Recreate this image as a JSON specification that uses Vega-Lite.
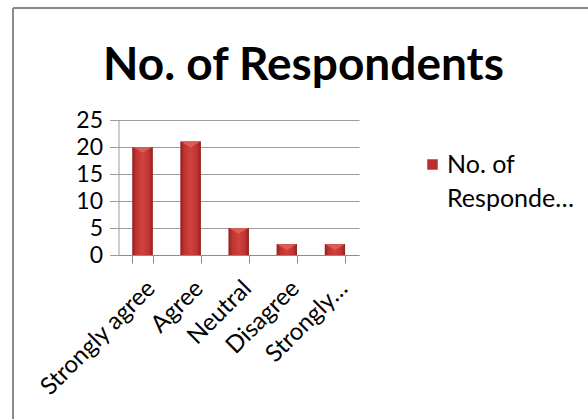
{
  "$schema": "https://vega.github.io/schema/vega-lite/v6.json",
  "width": 575,
  "height": 411,
  "autosize": {"type": "none"},
  "padding": {"left": 13, "top": 8, "right": 0, "bottom": 0},
  "background": "white",
  "config": {
    "font": "Lato",
    "view": {"stroke": "#8a8a8a", "strokeWidth": 2, "strokeDash": [575, 986, 411, 0]},
    "axis": {"labelColor": "#000000", "labelFont": "Lato", "domainColor": "#8c8c8c", "tickColor": "#8c8c8c"},
    "style": {"guide-label": {"lineHeight": 34}}
  },
  "title": {
    "text": "No. of Respondents",
    "font": "Lato",
    "fontSize": 46,
    "fontWeight": "bold",
    "color": "#000000",
    "anchor": "middle",
    "baseline": "alphabetic",
    "offset": -118,
    "dx": 3
  },
  "data": {
    "values": [
      {"response": "Strongly agree", "count": 20, "series": "No. of Respondents"},
      {"response": "Agree", "count": 21, "series": "No. of Respondents"},
      {"response": "Neutral", "count": 5, "series": "No. of Respondents"},
      {"response": "Disagree", "count": 2, "series": "No. of Respondents"},
      {"response": "Strongly disagree", "count": 2, "series": "No. of Respondents"}
    ]
  },
  "encoding": {
    "x": {
      "field": "response",
      "type": "nominal",
      "sort": null,
      "scale": {"range": [105.5, 346], "paddingInner": 0.58, "paddingOuter": 0.29},
      "axis": {
        "title": null,
        "labelAngle": -45,
        "labelFontSize": 24,
        "tickBand": "extent",
        "offset": -164,
        "tickSize": 8,
        "labelPadding": 13,
        "grid": false,
        "labelExpr": "datum.label == 'Strongly disagree' ? 'Strongly…' : datum.label"
      }
    },
    "y": {
      "field": "count",
      "type": "quantitative",
      "scale": {"domain": [0, 25], "range": [247, 112], "nice": false},
      "axis": {
        "title": null,
        "values": [0, 5, 10, 15, 20, 25],
        "offset": -105.5,
        "labelFontSize": 23,
        "tickSize": 9,
        "labelPadding": 7,
        "grid": true,
        "gridColor": "#9c9c9c",
        "domainColor": "#9c9c9c",
        "tickColor": "#9c9c9c"
      }
    }
  },
  "layer": [
    {
      "mark": {"type": "bar"},
      "encoding": {
        "color": {
          "field": "series",
          "type": "nominal",
          "scale": {"range": ["#b8302e"]},
          "legend": {
            "title": null,
            "orient": "none",
            "legendX": 407,
            "legendY": 144,
            "symbolType": "square",
            "symbolSize": 110,
            "symbolStrokeWidth": 0,
            "labelFontSize": 25,
            "labelColor": "#000000",
            "labelFont": "Lato",
            "labelBaseline": "middle",
            "labelOffset": 2,
            "labelExpr": "['No. of', 'Responde…']"
          }
        }
      }
    },
    {
      "mark": {
        "type": "bar",
        "fill": {
          "gradient": "linear",
          "x1": 0, "x2": 1, "y1": 0, "y2": 0,
          "stops": [
            {"offset": 0, "color": "#8e2220"},
            {"offset": 0.18, "color": "#bd3431"},
            {"offset": 0.5, "color": "#d0423e"},
            {"offset": 0.82, "color": "#bd3431"},
            {"offset": 1, "color": "#8e2220"}
          ]
        }
      }
    },
    {
      "mark": {
        "type": "point",
        "shape": "M-1,0L1,0L0,0.6Z",
        "size": 380,
        "filled": true,
        "fill": "#e0625d",
        "opacity": 0.85,
        "strokeWidth": 0
      }
    }
  ]
}
